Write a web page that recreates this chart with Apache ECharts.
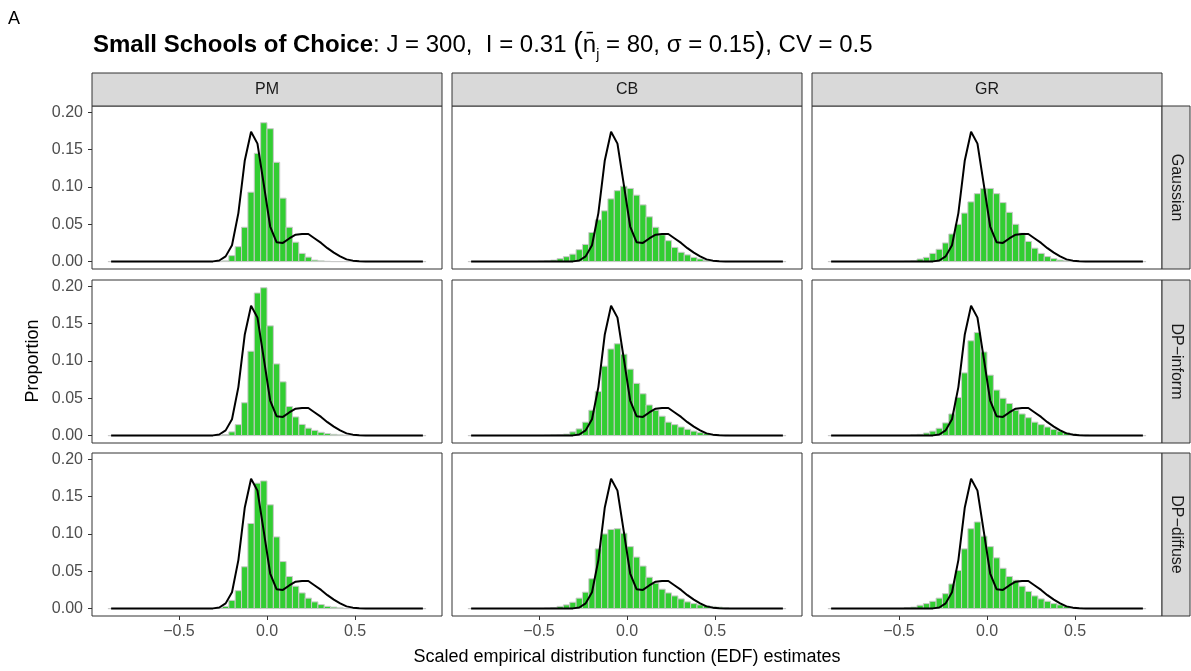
<!DOCTYPE html>
<html>
<head>
<meta charset="utf-8">
<script src="https://cdn.jsdelivr.net/npm/echarts@6/dist/echarts.min.js"></script>
<style>
  html, body { margin: 0; padding: 0; background: #fff; }
  #chart { width: 1191px; height: 671px; }
</style>
</head>
<body>
<div id="chart"></div>
<script>
const methods = ['PM', 'CB', 'GR']
const priors = ['Gaussian', 'DP−inform', 'DP−diffuse']
const xTicks = [-0.5, 0, 0.5]
const yTicks = [0, 0.05, 0.1, 0.15, 0.2]

// 50 histogram bins across the EDF range
const BIN_LO = -0.9035
const BIN_W = 0.03614
const binMid = Array.from({ length: 50 }, (_, i) => +(BIN_LO + BIN_W * (i + 0.5)).toFixed(4))

// true distribution (black line), same in every panel
const truth = [
  0, 0, 0, 0, 0, 0, 0, 0, 0, 0,
  0, 0, 0, 0, 0, 0, 0.0003, 0.0015, 0.007, 0.022,
  0.065, 0.135, 0.174, 0.158, 0.103, 0.047, 0.026, 0.025, 0.031, 0.036,
  0.037, 0.037, 0.031, 0.025, 0.018, 0.012, 0.007, 0.003, 0.0013, 0.0005,
  0, 0, 0, 0, 0, 0, 0, 0, 0, 0,
]

// Gaussian row
const pmGaussian = [
  0, 0, 0, 0, 0, 0, 0, 0, 0, 0,
  0, 0, 0, 0, 0, 0, 0, 0, 0.001, 0.008,
  0.020, 0.046, 0.093, 0.145, 0.186, 0.178, 0.133, 0.085, 0.046, 0.026,
  0.011, 0.006, 0.002, 0.001, 0.0004, 0, 0, 0, 0, 0,
  0, 0, 0, 0, 0, 0, 0, 0, 0, 0,
]
const cbGaussian = [
  0, 0, 0, 0, 0, 0, 0, 0, 0, 0,
  0, 0.0005, 0.001, 0.002, 0.004, 0.0066, 0.010, 0.016, 0.023, 0.039,
  0.056, 0.068, 0.084, 0.095, 0.101, 0.098, 0.089, 0.076, 0.060, 0.046,
  0.036, 0.028, 0.019, 0.0125, 0.009, 0.0057, 0.0035, 0.0017, 0.001, 0.0005,
  0, 0, 0, 0, 0, 0, 0, 0, 0, 0,
]
const grGaussian = [
  0, 0, 0, 0, 0, 0, 0, 0, 0, 0,
  0, 0, 0.0005, 0.001, 0.0035, 0.0057, 0.011, 0.0165, 0.025, 0.037,
  0.050, 0.065, 0.080, 0.091, 0.098, 0.098, 0.091, 0.079, 0.066, 0.050,
  0.038, 0.027, 0.018, 0.011, 0.0067, 0.004, 0.002, 0.001, 0, 0,
  0, 0, 0, 0, 0, 0, 0, 0, 0, 0,
]

// DP-inform row
const pmInform = [
  0, 0, 0, 0, 0, 0, 0, 0, 0, 0,
  0, 0, 0, 0, 0, 0, 0, 0, 0.0015, 0.005,
  0.0147, 0.044, 0.113, 0.191, 0.198, 0.147, 0.096, 0.072, 0.039, 0.025,
  0.015, 0.010, 0.007, 0.0044, 0.0027, 0.0017, 0.001, 0.0005, 0, 0,
  0, 0, 0, 0, 0, 0, 0, 0, 0, 0,
]
const cbInform = [
  0, 0, 0, 0, 0, 0, 0, 0, 0, 0,
  0, 0, 0.0005, 0.001, 0.0015, 0.002, 0.005, 0.009, 0.018, 0.034,
  0.059, 0.093, 0.116, 0.123, 0.109, 0.089, 0.070, 0.056, 0.041, 0.034,
  0.026, 0.018, 0.0147, 0.0115, 0.0084, 0.006, 0.004, 0.0027, 0.0017, 0.001,
  0.0005, 0, 0, 0, 0, 0, 0, 0, 0, 0,
]
const grInform = [
  0, 0, 0, 0, 0, 0, 0, 0, 0, 0,
  0, 0, 0, 0.001, 0.0017, 0.0035, 0.006, 0.0098, 0.017, 0.029,
  0.051, 0.084, 0.127, 0.138, 0.112, 0.081, 0.061, 0.050, 0.043, 0.034,
  0.029, 0.024, 0.018, 0.0147, 0.0115, 0.0084, 0.006, 0.004, 0.0027, 0.0015,
  0.0008, 0, 0, 0, 0, 0, 0, 0, 0, 0,
]

// DP-diffuse row
const pmDiffuse = [
  0, 0, 0, 0, 0, 0, 0, 0, 0, 0,
  0, 0, 0, 0, 0, 0, 0, 0.001, 0.003, 0.011,
  0.024, 0.056, 0.114, 0.168, 0.171, 0.139, 0.096, 0.063, 0.043, 0.030,
  0.021, 0.014, 0.009, 0.0054, 0.003, 0.002, 0.001, 0, 0, 0,
  0, 0, 0, 0, 0, 0, 0, 0, 0, 0,
]
const cbDiffuse = [
  0, 0, 0, 0, 0, 0, 0, 0, 0, 0,
  0, 0, 0.0007, 0.0013, 0.003, 0.005, 0.0085, 0.014, 0.022, 0.040,
  0.080, 0.100, 0.106, 0.107, 0.101, 0.083, 0.069, 0.057, 0.042, 0.034,
  0.026, 0.021, 0.017, 0.013, 0.009, 0.0067, 0.005, 0.004, 0.003, 0.002,
  0.001, 0, 0, 0, 0, 0, 0, 0, 0, 0,
]
const grDiffuse = [
  0, 0, 0, 0, 0, 0, 0, 0, 0, 0,
  0, 0, 0.0013, 0.002, 0.0045, 0.0067, 0.0098, 0.014, 0.020, 0.033,
  0.051, 0.080, 0.107, 0.116, 0.097, 0.083, 0.068, 0.054, 0.043, 0.038,
  0.030, 0.023, 0.017, 0.013, 0.0098, 0.0067, 0.005, 0.003, 0.002, 0.001,
  0, 0, 0, 0, 0, 0, 0, 0, 0, 0,
]

const panels = [
  [pmGaussian, cbGaussian, grGaussian],
  [pmInform, cbInform, grInform],
  [pmDiffuse, cbDiffuse, grDiffuse],
]

const FONT = 'Liberation Sans, Arial, sans-serif'
const LEFT = [92, 452, 812]
const TOP = [106, 280, 453]
const PW = 350
const PH = 163
const STRIP_H = 33
const STRIP_W = 28

const fmt = (v) => (v < 0 ? '−' : '') + Math.abs(v).toFixed(1)

function renderBin(params, api) {
  const x = api.value(0)
  const h = api.value(1)
  const a = api.coord([x - BIN_W / 2, h])
  const b = api.coord([x + BIN_W / 2, 0])
  return {
    type: 'rect',
    shape: { x: a[0], y: a[1], width: b[0] - a[0], height: b[1] - a[1] },
    style: { fill: '#32CD32', stroke: '#C9C9C9', lineWidth: 1 },
  }
}

const grid = []
const xAxis = []
const yAxis = []
const series = []
const graphic = []

for (let r = 0; r < 3; r++) {
  for (let c = 0; c < 3; c++) {
    const k = grid.length
    grid.push({
      left: LEFT[c], top: TOP[r], width: PW, height: PH,
      show: true, borderColor: '#333333', borderWidth: 1, backgroundColor: '#fff',
    })
    xAxis.push({
      type: 'value', gridIndex: k, min: -0.994, max: 0.994, position: 'bottom',
      splitLine: { show: false },
      axisLine: { show: false, onZero: false },
      axisTick: { show: r === 2, length: 4, customValues: xTicks, lineStyle: { color: '#333333' } },
      axisLabel: {
        show: r === 2, customValues: xTicks, formatter: (v) => fmt(v),
        color: '#4D4D4D', fontSize: 16, fontFamily: FONT, margin: 8,
      },
    })
    yAxis.push({
      type: 'value', gridIndex: k, min: -0.0099, max: 0.2084, position: 'left',
      splitLine: { show: false },
      axisLine: { show: false, onZero: false },
      axisTick: { show: c === 0, length: 4, customValues: yTicks, lineStyle: { color: '#333333' } },
      axisLabel: {
        show: c === 0, customValues: yTicks, formatter: (v) => v.toFixed(2),
        color: '#4D4D4D', fontSize: 16, fontFamily: FONT, margin: 9,
      },
    })
    series.push({
      type: 'custom', xAxisIndex: k, yAxisIndex: k,
      renderItem: renderBin,
      encode: { x: 0, y: 1 },
      data: binMid.map((x, i) => [x, panels[r][c][i]]),
      z: 2,
    })
    series.push({
      type: 'line', xAxisIndex: k, yAxisIndex: k,
      data: binMid.map((x, i) => [x, truth[i]]),
      showSymbol: false,
      lineStyle: { color: '#000', width: 2 },
      z: 3,
    })
  }
}

// facet strips
methods.forEach((m, c) => {
  graphic.push({
    type: 'rect', shape: { x: LEFT[c], y: TOP[0] - STRIP_H, width: PW, height: STRIP_H },
    style: { fill: '#D9D9D9', stroke: '#333333', lineWidth: 1 },
  })
  graphic.push({
    type: 'text', x: LEFT[c] + PW / 2, y: TOP[0] - STRIP_H / 2,
    style: { text: m, font: '16px ' + FONT, fill: '#1A1A1A', align: 'center', verticalAlign: 'middle' },
  })
})
priors.forEach((p, r) => {
  const x0 = LEFT[2] + PW
  graphic.push({
    type: 'rect', shape: { x: x0, y: TOP[r], width: STRIP_W, height: PH },
    style: { fill: '#D9D9D9', stroke: '#333333', lineWidth: 1 },
  })
  graphic.push({
    type: 'text', x: x0 + STRIP_W / 2, y: TOP[r] + PH / 2, rotation: -Math.PI / 2,
    style: { text: p, font: '16px ' + FONT, fill: '#1A1A1A', align: 'center', verticalAlign: 'middle' },
  })
})

// axis titles
graphic.push({
  type: 'text', x: 33, y: (TOP[0] + TOP[2] + PH) / 2, rotation: Math.PI / 2,
  style: { text: 'Proportion', font: '18px ' + FONT, fill: '#000', align: 'center', verticalAlign: 'middle' },
})
graphic.push({
  type: 'text', x: (LEFT[0] + LEFT[2] + PW) / 2, y: 657,
  style: {
    text: 'Scaled empirical distribution function (EDF) estimates',
    font: '18px ' + FONT, fill: '#000', align: 'center', verticalAlign: 'middle',
  },
})

const chart = echarts.init(document.getElementById('chart'))
chart.setOption({
  animation: false,
  backgroundColor: '#fff',
  title: [
    {
      text: 'A', left: 8, top: 10, padding: 0,
      textStyle: { fontSize: 18, fontWeight: 'normal', color: '#000', fontFamily: FONT },
    },
    {
      text: '{b|Small Schools of Choice}{r|: J = 300,  I = 0.31 }{p|(}{r|n̄}{s|j}{r| = 80, σ = 0.15}{p|)}{r|, CV = 0.5}',
      left: 93, top: 28, padding: 0,
      textStyle: {
        fontWeight: 'normal',
        rich: {
          b: { fontSize: 24, fontWeight: 'bold', color: '#000', fontFamily: FONT, lineHeight: 34 },
          r: { fontSize: 24, fontWeight: 'normal', color: '#000', fontFamily: FONT, lineHeight: 34 },
          p: { fontSize: 29, fontWeight: 'normal', color: '#000', fontFamily: FONT, lineHeight: 34 },
          s: { fontSize: 14, fontWeight: 'normal', color: '#000', fontFamily: FONT, lineHeight: 34, verticalAlign: 'bottom' },
        },
      },
    },
  ],
  grid,
  xAxis,
  yAxis,
  series,
  graphic,
})
</script>
</body>
</html>
